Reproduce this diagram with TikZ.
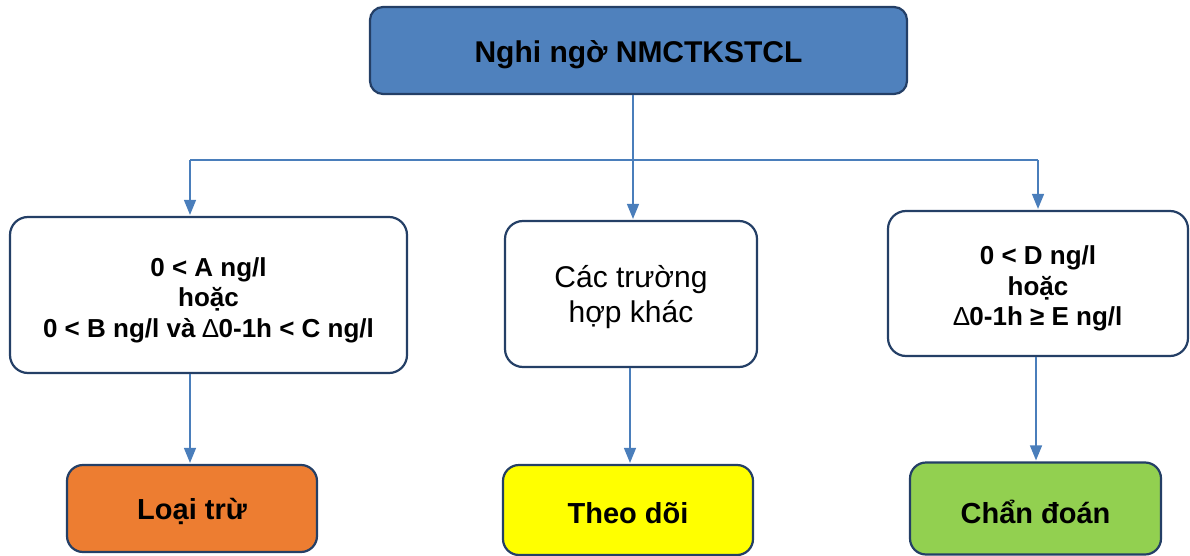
\documentclass[tikz,border=0pt]{standalone}
\usepackage{fontspec}
\setmainfont{Liberation Sans}
\usetikzlibrary{arrows.meta}
\definecolor{titleblue}{HTML}{4F81BD}
\definecolor{linkblue}{HTML}{4A7EBB}
\definecolor{navy}{HTML}{243F66}
\definecolor{orangefill}{HTML}{ED7D31}
\definecolor{yellowfill}{HTML}{FFFF00}
\definecolor{greenfill}{HTML}{92D050}
\newcommand{\thindelta}{{\mdseries ∆}}
\tikzset{
  boxbase/.style={draw=navy, line width=2.2pt, rounded corners=18pt, inner sep=0pt},
  condtext/.style={align=center, inner sep=0pt, font=\fontsize{26}{30.5}\selectfont\bfseries},
  plaintext/.style={align=center, inner sep=0pt, font=\fontsize{30}{35}\selectfont},
  restext/.style={align=center, inner sep=0pt, font=\fontsize{29}{34}\selectfont\bfseries},
  link/.style={draw=linkblue, line width=1.4pt},
  arr/.style={link, -{Triangle[length=15pt,width=12pt]}, shorten >=1pt}
}
\begin{document}
\begin{tikzpicture}[x=1pt,y=-1pt]
\useasboundingbox (0,0) rectangle (1190,556);
% boxes
\node[boxbase, fill=titleblue, rounded corners=13pt, minimum width=537pt, minimum height=87pt] (top) at (638.5,50.5) {};
\node[boxbase, fill=white, minimum width=397pt, minimum height=156pt] (left) at (208.5,295) {};
\node[boxbase, fill=white, minimum width=252pt, minimum height=146pt] (mid) at (631,294) {};
\node[boxbase, fill=white, minimum width=300pt, minimum height=145pt] (right) at (1038,283.5) {};
\node[boxbase, rounded corners=16pt, fill=orangefill, minimum width=250pt, minimum height=87pt] (excl) at (192,508.5) {};
\node[boxbase, rounded corners=16pt, fill=yellowfill, minimum width=250pt, minimum height=90pt] (follow) at (628,510) {};
\node[boxbase, rounded corners=16pt, fill=greenfill, minimum width=251pt, minimum height=92pt] (diag) at (1035.5,508.5) {};
% texts
\node[restext, font=\fontsize{30}{34}\selectfont\bfseries] (toptext) at ([yshift=-4pt]top.center) {Nghi ngờ NMCTKSTCL};
\node[condtext] (lefttext) at ([yshift=-5pt]left.center) {0 < A ng/l\\hoặc\\0 < B ng/l và \thindelta0-1h < C ng/l};
\node[plaintext] (midtext) at ([yshift=-3pt]mid.center) {Các trường\\hợp khác};
\node[condtext] (righttext) at ([yshift=-5pt]right.center) {0 < D ng/l\\hoặc\\\thindelta0-1h ≥ E ng/l};
\node[restext] (excltext) at ([yshift=-3pt]excl.center) {Loại trừ};
\node[restext] (followtext) at ([yshift=-3pt]follow.center) {Theo dõi};
\node[restext] (diagtext) at ([yshift=-3pt]diag.center) {Chẩn đoán};
% connectors
\coordinate (hl) at (190,160);
\coordinate (hm) at (633,160);
\coordinate (hr) at (1038,160);
\draw[link] (top.south -| hm) -- (hm);
\draw[link] (hl) -- (hr);
\draw[arr] (hl) -- (hl |- left.north);
\draw[arr] (hm) -- (hm |- mid.north);
\draw[arr] (hr) -- (hr |- right.north);
\coordinate (bl) at (190,0);
\coordinate (bm) at (630,0);
\coordinate (br) at (1036,0);
\draw[arr] (bl |- left.south) -- (bl |- excl.north);
\draw[arr] (bm |- mid.south) -- (bm |- follow.north);
\draw[arr] (br |- right.south) -- (br |- diag.north);
\end{tikzpicture}
\end{document}
